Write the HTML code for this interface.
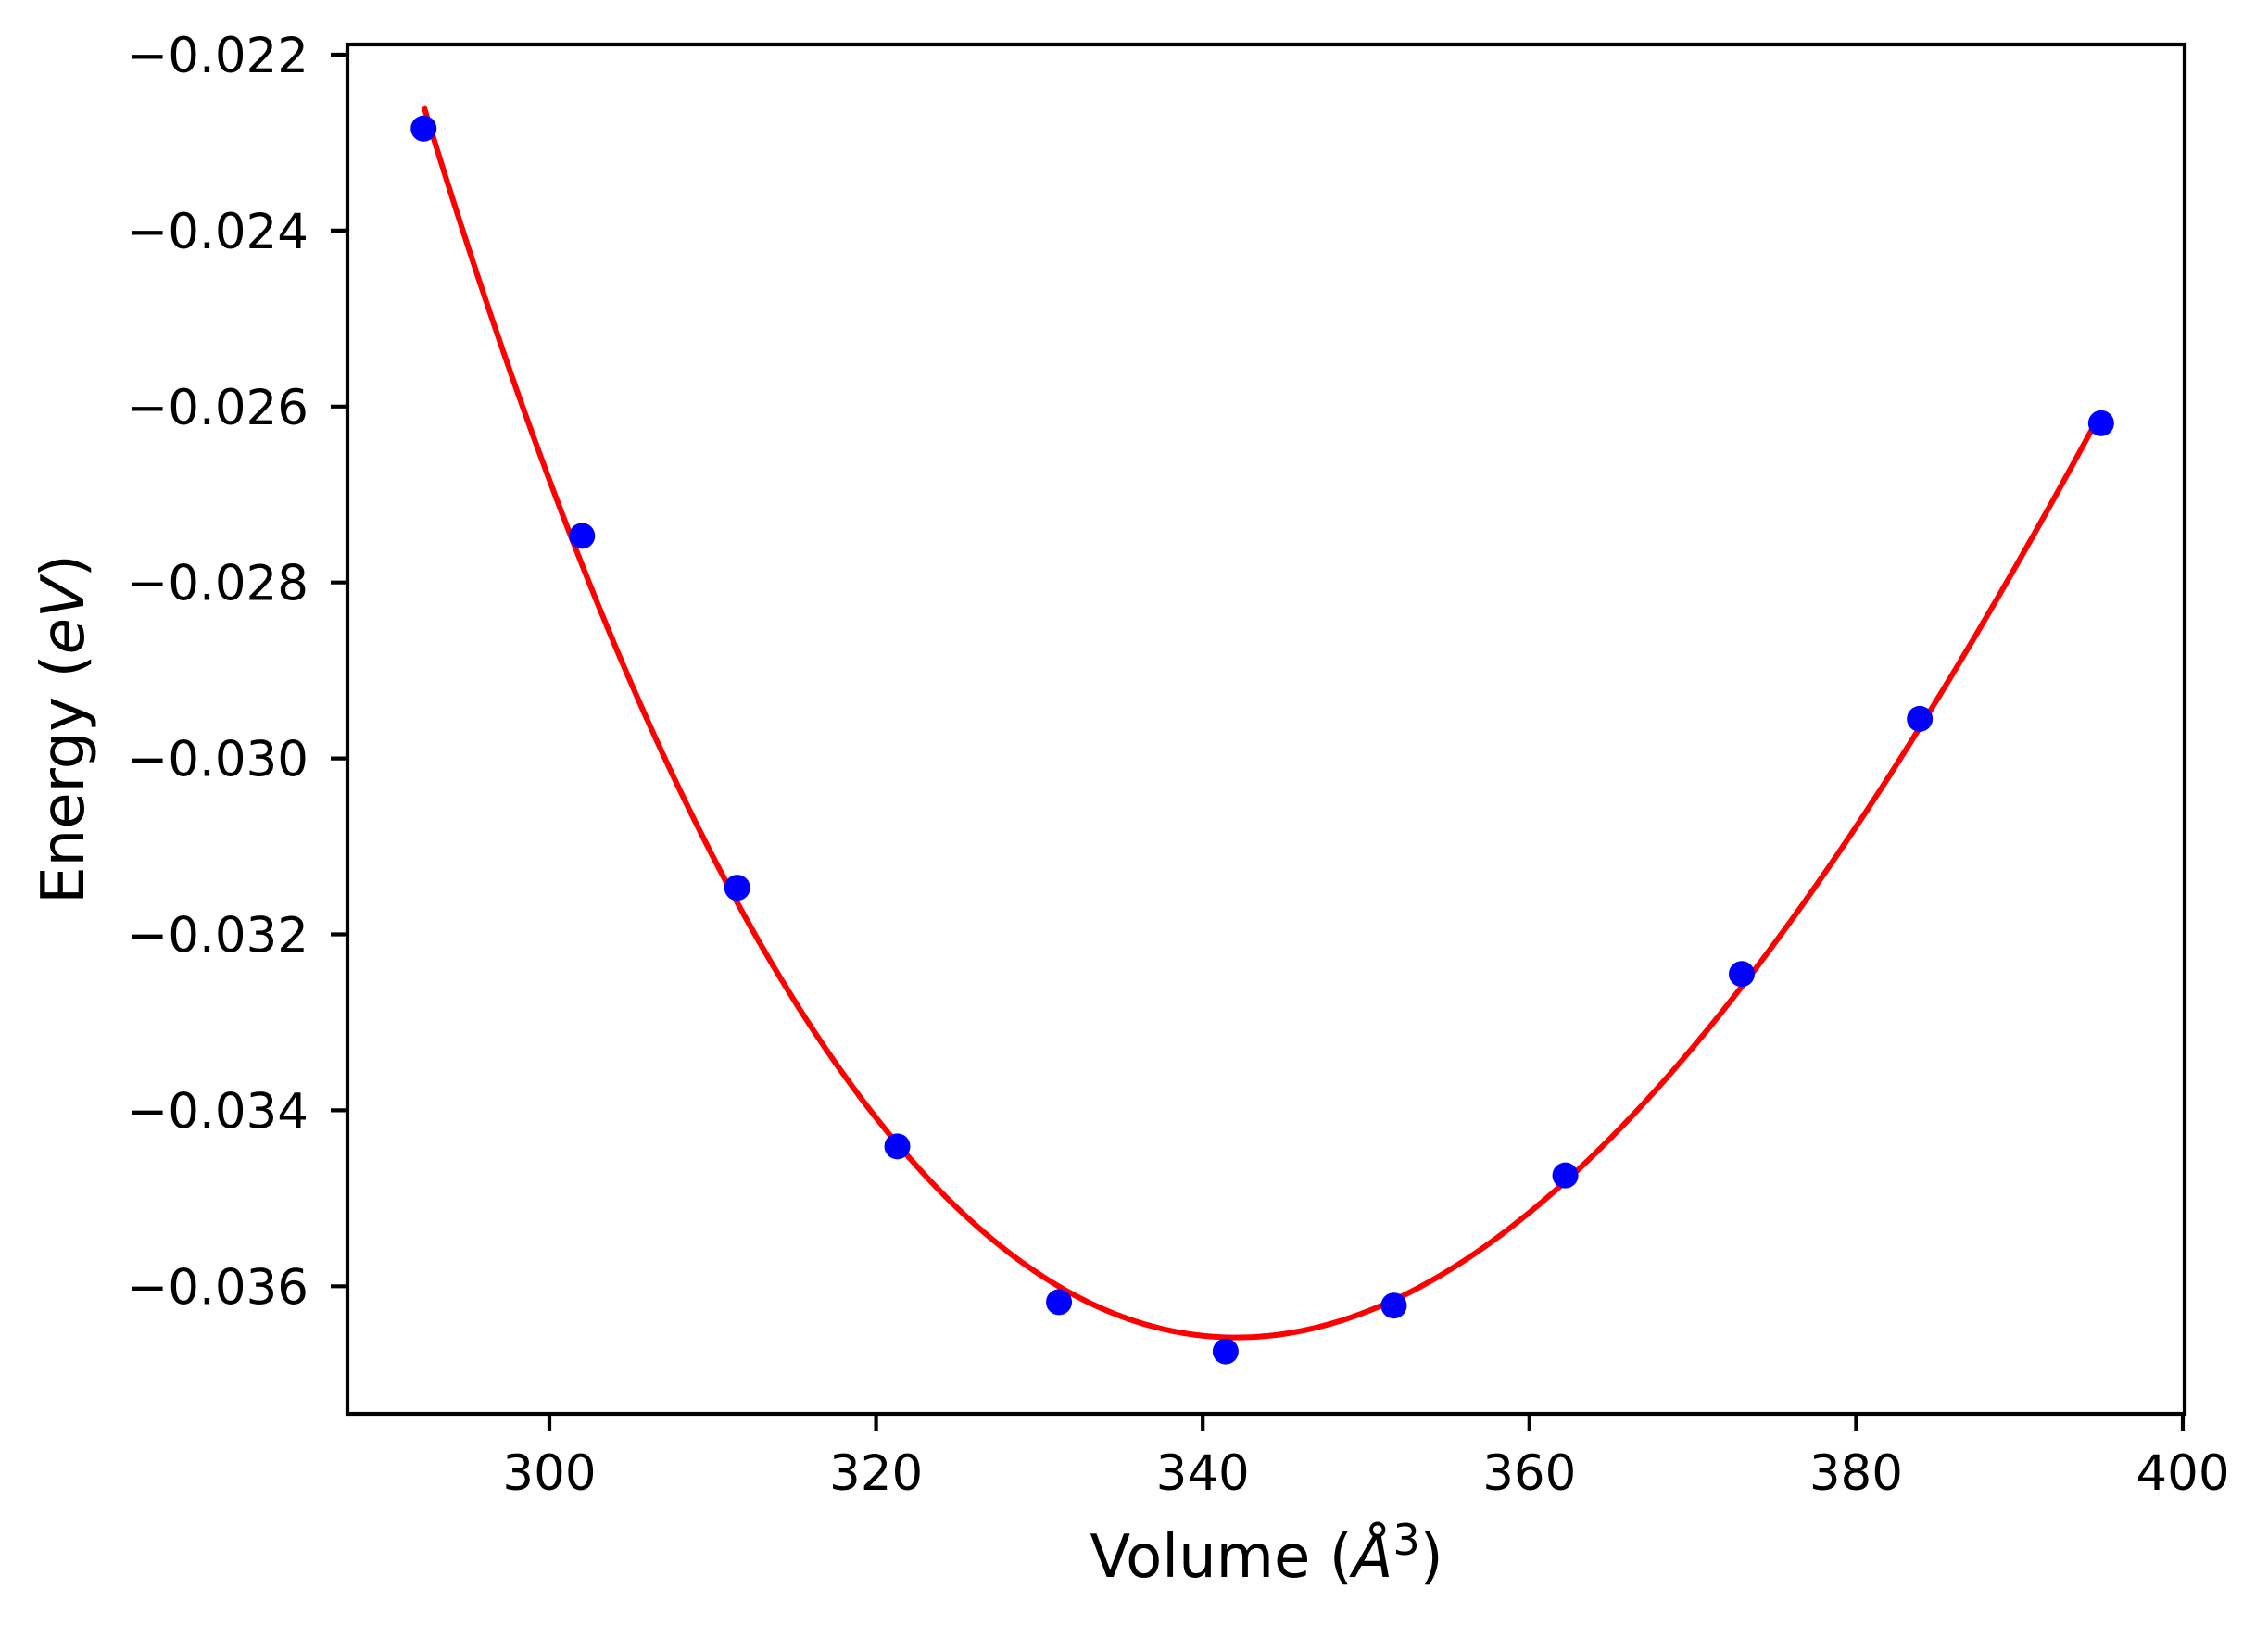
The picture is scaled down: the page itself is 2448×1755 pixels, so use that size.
<!DOCTYPE html>
<html><head><meta charset="utf-8"><style>
html,body{margin:0;padding:0;background:#fff}
svg{display:block}
text{font-family:"DejaVu Sans","Liberation Sans",sans-serif;fill:#000}
</style></head><body>
<svg id="chart" width="2448" height="1755" viewBox="0 0 2448 1755" xmlns="http://www.w3.org/2000/svg">
<rect width="2448" height="1755" fill="#fff"/>
<g id="marks"></g>
<g id="axes"></g>
</svg>
<script>
const volumes = [292.3, 302.0, 311.5, 321.3, 331.2, 341.4, 351.7, 362.2, 373.0, 383.9, 395.0];
const energies = [-0.02284, -0.02747, -0.03147, -0.03441, -0.03618, -0.03674, -0.03622, -0.03474, -0.03245, -0.02955, -0.02619];
const xTicks = [300, 320, 340, 360, 380, 400];
const yTicks = [-0.022, -0.024, -0.026, -0.028, -0.030, -0.032, -0.034, -0.036];

const L = 375, R = 2358, T = 48, B = 1526;
function sx(v){ return 593 + (v - 300) * (2356 - 593) / 100; }
function sy(e){ return 59 + (-0.022 - e) / 0.002 * 189.9; }
const NS = "http://www.w3.org/2000/svg";
function mk(tag, attrs, parent){ const el = document.createElementNS(NS, tag); for (const k in attrs) el.setAttribute(k, attrs[k]); parent.appendChild(el); return el; }

// cubic least squares fit
function fit(xs, ys, deg){
  const n = deg + 1, xm = xs.reduce((a,b)=>a+b,0)/xs.length;
  const A = [], bv = [];
  for (let i=0;i<n;i++){ A.push(new Array(n).fill(0)); bv.push(0); }
  xs.forEach((x,k)=>{ const t = x - xm; for (let i=0;i<n;i++){ for (let j=0;j<n;j++) A[i][j] += Math.pow(t,i+j); bv[i] += ys[k]*Math.pow(t,i); } });
  for (let i=0;i<n;i++){ let p=i; for (let r=i+1;r<n;r++) if (Math.abs(A[r][i])>Math.abs(A[p][i])) p=r;
    [A[i],A[p]]=[A[p],A[i]]; [bv[i],bv[p]]=[bv[p],bv[i]];
    for (let r=0;r<n;r++){ if (r===i) continue; const f=A[r][i]/A[i][i]; for (let c=i;c<n;c++) A[r][c]-=f*A[i][c]; bv[r]-=f*bv[i]; } }
  const c = bv.map((v,i)=>v/A[i][i]);
  return x => { const t=x-xm; let s=0; for (let i=0;i<n;i++) s+=c[i]*Math.pow(t,i); return s; };
}
const marks = document.getElementById('marks');
const f = fit(volumes, energies, 3);
const v0 = Math.min(...volumes), v1 = Math.max(...volumes);
let d = "";
for (let i=0;i<=300;i++){ const v = v0 + (v1-v0)*i/300; d += (i?"L":"M") + sx(v).toFixed(2) + "," + sy(f(v)).toFixed(2); }
const fitLine = mk('path', {d: d, fill:'none', stroke:'#ff0000', 'stroke-width':6}, marks);


volumes.forEach((v,i)=>{
  const c = mk('circle', {cx: sx(v), cy: sy(energies[i]), r: 14, fill:'#0000ff'}, marks);
  
  
});

const axes = document.getElementById('axes');
const frame = mk('rect', {x:L, y:T, width:R-L, height:B-T, fill:'none', stroke:'#000', 'stroke-width':4.2}, axes);


xTicks.forEach(t=>{
  const x = sx(t);
  const ln = mk('line', {x1:x, x2:x, y1:B, y2:B+18, stroke:'#000', 'stroke-width':4.2}, axes);
  
  
  const tx = mk('text', {x:x, y:1608, 'text-anchor':'middle', 'font-size':53}, axes);
  tx.textContent = String(t);
  
  
});
yTicks.forEach(t=>{
  const y = sy(t);
  const ln = mk('line', {x1:L-18, x2:L, y1:y, y2:y, stroke:'#000', 'stroke-width':4.2}, axes);
  
  
  const tx = mk('text', {x:333, y:y+19, 'text-anchor':'end', 'font-size':53}, axes);
  tx.textContent = "\u2212" + Math.abs(t).toFixed(3);
  
  
});
</script>
<svg style="position:absolute;left:0;top:0" width="2448" height="1755">
<text x="1367" y="1702" text-anchor="middle" font-size="64">Volume (<tspan font-style="italic">Å</tspan><tspan font-size="46" dy="-24">3</tspan><tspan dy="24">)</tspan></text>
<text x="0" y="0" transform="translate(90,787) rotate(-90)" text-anchor="middle" font-size="64">Energy (<tspan font-style="italic">eV</tspan>)</text>
</svg>
</body></html>
